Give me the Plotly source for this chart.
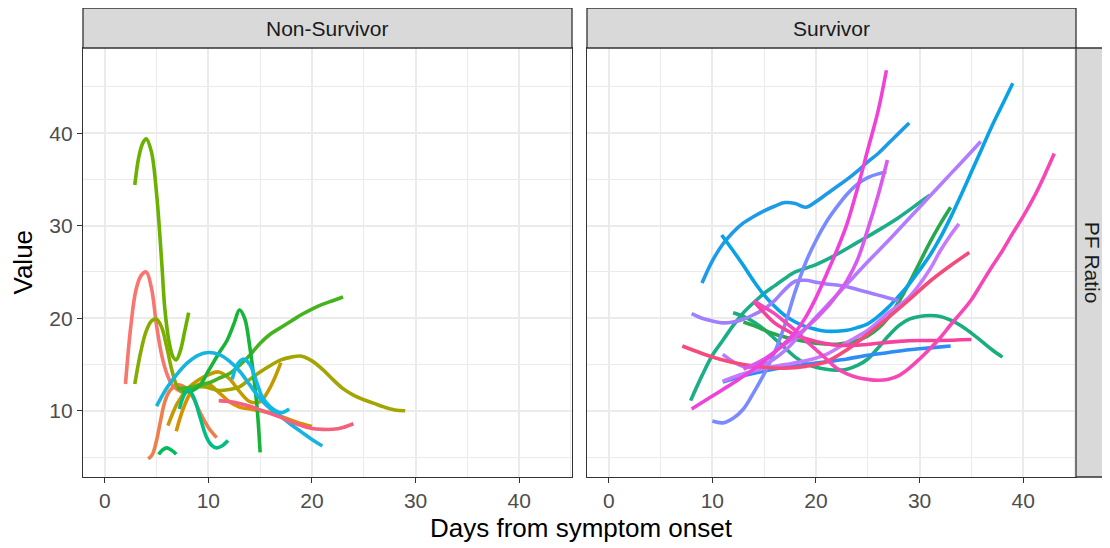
import plotly.graph_objects as go

# ---------------- Data: Non-Survivor panel ----------------
ns_red_x = [2, 2.5, 3, 3.5, 4, 4.5, 5, 5.5, 6, 6.5, 7, 7.5]
ns_red_y = [12.9, 19.0, 23.0, 24.6, 25.0, 23.3, 19.2, 16.0, 14.0, 12.8, 12.3, 12.0]

ns_coral_x = [4.2, 4.6, 5.0, 5.4, 5.8, 6.3, 7.0, 7.8, 8.5, 9.2, 10.0, 10.8]
ns_coral_y = [4.8, 5.3, 6.8, 9.0, 11.0, 12.2, 12.8, 12.5, 11.5, 9.8, 8.2, 7.1]

ns_gold2_x = [6.9, 7.5, 8.2, 9, 10, 11, 12, 13, 14, 15, 16, 17, 18, 19, 20]
ns_gold2_y = [7.8, 10.0, 11.8, 12.8, 12.9, 12.0, 11.0, 10.4, 10.2, 10.0, 9.8, 9.4, 9.0, 8.6, 8.3]

ns_gold1_x = [6.1, 7, 8, 9, 10, 11, 12, 13, 14, 15, 16, 17]
ns_gold1_y = [8.4, 10.8, 12.4, 13.3, 13.9, 14.2, 13.5, 12.1, 11.0, 11.0, 12.6, 15.2]

ns_olive_x = [7.5, 9.5, 11, 12, 13, 14, 15, 16, 17, 18, 19, 20, 21, 22, 23, 24, 25, 26, 27, 28, 29]
ns_olive_y = [12.3, 12.6, 12.2, 12.3, 12.6, 13.4, 14.2, 14.9, 15.5, 15.8, 15.9, 15.4, 14.5, 13.4, 12.4, 11.7, 11.2, 10.8, 10.4, 10.1, 10.0]

ns_lime_x = [2.9, 3.5, 4.0, 4.5, 5.0, 5.5, 6.0, 6.5, 7.0, 7.5, 8.0]
ns_lime_y = [12.9, 16.5, 18.6, 19.7, 19.9, 19.0, 16.8, 14.3, 12.6, 12.1, 12.3]

ns_tall_x = [2.9, 3.3, 3.7, 4.0, 4.5, 5.0, 5.5, 5.8, 6.2, 6.6, 6.9, 7.3, 7.7, 8.1]
ns_tall_y = [34.4, 37.5, 39.0, 39.4, 38.0, 33.5, 26.0, 21.0, 17.5, 15.8, 15.5, 16.5, 18.5, 20.6]

ns_greenA_x = [7.5, 8.5, 9.2, 10, 11, 11.8, 12.5, 13, 13.5, 14, 14.4, 14.7, 15]
ns_greenA_y = [12.0, 12.2, 12.8, 14.3, 16.2, 17.6, 19.5, 20.9, 20.0, 16.9, 13.5, 10.4, 5.5]

ns_greenB_x = [7, 8, 9, 10, 11, 12, 13, 14, 15, 16, 17, 18, 19, 20, 21, 22, 23]
ns_greenB_y = [12.4, 12.5, 12.7, 13.0, 13.5, 14.0, 14.9, 16.0, 17.3, 18.3, 19.0, 19.7, 20.4, 21.0, 21.5, 21.9, 22.3]

ns_tealsm_x = [5.2, 5.6, 6.0, 6.5, 6.9]
ns_tealsm_y = [5.3, 5.8, 6.0, 5.7, 5.3]

ns_teal_x = [7.2, 7.7, 8.1, 8.6, 9.2, 9.8, 10.3, 10.8, 11.3, 11.9]
ns_teal_y = [10.2, 11.8, 12.3, 11.4, 9.3, 7.2, 6.3, 6.0, 6.2, 6.8]

ns_cyan1_x = [5, 6, 7, 8, 9, 10, 11, 12, 13, 14, 15, 16, 17, 18, 19, 20, 21]
ns_cyan1_y = [10.5, 12.5, 14.0, 15.2, 16.0, 16.3, 16.1, 15.4, 14.3, 12.8, 11.3, 10.2, 9.4, 8.5, 7.7, 6.9, 6.2]

ns_cyan2_x = [12.3, 12.8, 13.4, 14.0, 14.6, 15.2, 16.0, 17.0, 17.8]
ns_cyan2_y = [13.4, 15.0, 15.6, 15.0, 13.3, 11.5, 10.4, 9.8, 10.2]

ns_pink_x = [11, 12, 13, 14, 15, 16, 17, 18, 19, 20, 21, 22, 23, 24]
ns_pink_y = [11.1, 11.0, 10.8, 10.5, 10.1, 9.7, 9.3, 8.8, 8.4, 8.1, 8.0, 8.0, 8.2, 8.6]

# ---------------- Data: Survivor panel ----------------
sv_blue1_x = [9, 10, 11, 12, 13, 14, 15, 16, 17, 18, 19, 20, 21, 22, 23, 24, 25, 26, 27, 28, 29]
sv_blue1_y = [23.8, 26.2, 28.0, 29.3, 30.3, 31.0, 31.6, 32.1, 32.5, 32.4, 32.0, 32.6, 33.4, 34.2, 35.0, 35.9, 36.9, 37.8, 38.9, 40.0, 41.1]

sv_blue2_x = [10.9, 12, 13, 14, 15, 16, 17, 18, 19, 20, 21, 22, 23, 24, 25, 26, 27, 28, 29, 30, 31, 32, 33, 34, 35, 36, 37, 38, 39]
sv_blue2_y = [29.0, 27.3, 25.7, 24.0, 22.5, 21.3, 20.3, 19.6, 19.1, 18.8, 18.6, 18.6, 18.7, 19.0, 19.4, 20.2, 21.2, 22.4, 23.7, 25.2, 26.8, 28.7, 30.9, 33.3, 35.8, 38.3, 40.8, 43.1, 45.4]

sv_blue3_x = [11, 13, 15, 17, 19, 21, 23, 25, 27, 29, 31, 33]
sv_blue3_y = [13.1, 13.8, 14.3, 14.7, 15.0, 15.3, 15.6, 16.0, 16.3, 16.6, 16.8, 17.0]

sv_peri_x = [10, 11, 12, 13, 14, 15, 16, 17, 18, 19, 20, 21, 22, 23, 24, 25, 26, 26.8]
sv_peri_y = [8.9, 8.7, 9.2, 10.2, 12.0, 14.0, 16.3, 19.3, 22.9, 26.0, 28.4, 30.4, 32.0, 33.4, 34.5, 35.2, 35.6, 35.8]

sv_purp1_x = [8, 9, 10, 11, 12, 13, 14, 15, 16, 17, 18, 19, 20, 21, 22, 23, 24, 25, 26, 27, 28]
sv_purp1_y = [20.5, 20.0, 19.7, 19.5, 19.6, 19.9, 20.4, 21.0, 21.9, 23.1, 24.0, 24.1, 23.9, 23.7, 23.6, 23.4, 23.1, 22.8, 22.5, 22.2, 21.9]

sv_purp2_x = [11, 13, 15, 17, 19, 21, 23, 25, 27, 29, 31, 33, 35, 35.9]
sv_purp2_y = [16.1, 14.8, 15.0, 16.5, 18.9, 21.3, 23.7, 26.1, 28.4, 30.8, 33.2, 35.6, 38.0, 39.1]

sv_purp3_x = [11, 13, 15, 17, 19, 21, 23, 25, 27, 29, 31, 32, 33, 33.8]
sv_purp3_y = [13.2, 14.0, 14.6, 15.0, 15.4, 16.1, 17.4, 18.7, 20.6, 22.3, 25.3, 27.3, 29.0, 30.2]

sv_mag1_x = [8, 10, 12, 14, 16, 18, 19, 20, 21, 22, 23, 24, 25, 26, 26.8]
sv_mag1_y = [10.2, 11.6, 13.0, 14.5, 16.3, 18.5, 20.1, 22.2, 24.7, 27.3, 30.2, 34.0, 38.2, 42.4, 46.8]

sv_mag2_x = [13, 15, 17, 19, 21, 22, 23, 24, 25, 26, 26.9]
sv_mag2_y = [14.5, 15.6, 17.2, 18.9, 21.1, 22.5, 24.1, 26.3, 29.6, 33.3, 37.1]

sv_pink1_x = [14, 15, 16, 17, 18, 19, 20, 21, 22, 23, 24, 25, 26, 27, 28, 29, 30, 31, 32, 33, 34, 35, 36, 37, 38, 39, 40, 41, 42, 43]
sv_pink1_y = [21.9, 21.2, 20.5, 19.6, 18.7, 17.6, 16.6, 15.6, 14.6, 14.0, 13.6, 13.4, 13.3, 13.4, 13.8, 14.6, 15.6, 16.7, 17.9, 19.3, 20.6, 22.0, 23.8, 25.6, 27.3, 29.2, 31.0, 33.0, 35.3, 37.8]

sv_redpink_x = [7.1, 9, 11, 13, 15, 17, 19, 21, 23, 25, 27, 29, 31, 33, 34.8]
sv_redpink_y = [17.0, 16.2, 15.5, 15.0, 14.7, 14.6, 14.8, 15.3, 16.6, 18.3, 20.1, 22.0, 24.0, 25.7, 27.1]

sv_pink2_x = [14, 15, 16, 17, 18, 20, 22, 24, 26, 28, 30, 32, 35]
sv_pink2_y = [21.8, 20.6, 19.5, 18.8, 18.2, 17.5, 17.1, 17.1, 17.3, 17.5, 17.6, 17.6, 17.7]

sv_teal1_x = [7.9, 9, 10, 11, 12, 13, 14, 15, 16, 17, 18, 19, 20, 22, 24, 26, 28, 30, 31]
sv_teal1_y = [11.1, 13.8, 16.0, 17.6, 19.2, 20.6, 21.7, 22.7, 23.5, 24.3, 25.0, 25.4, 25.8, 26.9, 28.2, 29.5, 30.9, 32.5, 33.3]

sv_teal2_x = [12, 13, 14, 15, 16, 17, 18, 19, 20, 21, 22, 23, 24, 25, 26, 27, 28, 29, 30, 31, 32, 33, 34, 35, 36, 37, 38]
sv_teal2_y = [20.6, 20.2, 19.6, 18.8, 17.8, 16.8, 15.8, 15.1, 14.7, 14.5, 14.4, 14.5, 14.9, 15.6, 16.8, 18.1, 19.2, 19.9, 20.2, 20.3, 20.2, 19.8, 19.2, 18.4, 17.5, 16.6, 15.8]

sv_green_x = [13, 14, 16, 18, 20, 22, 24, 25, 26, 27, 28, 29, 30, 31, 32, 33]
sv_green_y = [19.6, 19.2, 18.3, 17.7, 17.3, 17.2, 17.6, 18.1, 18.9, 20.1, 21.8, 23.8, 26.0, 28.2, 30.2, 32.0]

# ---------------- Labels ----------------
panel_labels = ["Non-Survivor", "Survivor"]
row_label = "PF Ratio"
x_title = "Days from symptom onset"
y_title = "Value"
x_ticks = [0, 10, 20, 30, 40]
y_ticks = [10, 20, 30, 40]

left_series = [
    (ns_red_x, ns_red_y, "#F8766D"),
    (ns_coral_x, ns_coral_y, "#EE7F4B"),
    (ns_gold2_x, ns_gold2_y, "#D89000"),
    (ns_gold1_x, ns_gold1_y, "#C49A00"),
    (ns_olive_x, ns_olive_y, "#A3A500"),
    (ns_lime_x, ns_lime_y, "#86AC00"),
    (ns_tall_x, ns_tall_y, "#6BB100"),
    (ns_greenB_x, ns_greenB_y, "#45B31E"),
    (ns_greenA_x, ns_greenA_y, "#18B43A"),
    (ns_tealsm_x, ns_tealsm_y, "#00BC59"),
    (ns_teal_x, ns_teal_y, "#00BD82"),
    (ns_cyan1_x, ns_cyan1_y, "#17B4DF"),
    (ns_cyan2_x, ns_cyan2_y, "#0EB8E8"),
    (ns_pink_x, ns_pink_y, "#F4607D"),
]

right_series = [
    (sv_teal1_x, sv_teal1_y, "#1BAE88"),
    (sv_teal2_x, sv_teal2_y, "#19AD7F"),
    (sv_green_x, sv_green_y, "#27A84E"),
    (sv_blue1_x, sv_blue1_y, "#1E9BE8"),
    (sv_blue2_x, sv_blue2_y, "#0AA2E6"),
    (sv_blue3_x, sv_blue3_y, "#2D8CF5"),
    (sv_peri_x, sv_peri_y, "#7A8BFF"),
    (sv_purp1_x, sv_purp1_y, "#A07FFF"),
    (sv_purp2_x, sv_purp2_y, "#B37BFF"),
    (sv_purp3_x, sv_purp3_y, "#C57AFF"),
    (sv_redpink_x, sv_redpink_y, "#F64A7A"),
    (sv_pink2_x, sv_pink2_y, "#F5429C"),
    (sv_pink1_x, sv_pink1_y, "#F547B5"),
    (sv_mag2_x, sv_mag2_y, "#DA5AEC"),
    (sv_mag1_x, sv_mag1_y, "#F042D8"),
]

LW = 3.6
fig = go.Figure()
for xs, ys, c in left_series:
    fig.add_trace(go.Scatter(x=xs, y=ys, mode="lines", line=dict(color=c, width=LW, shape="spline", smoothing=1.0),
                             xaxis="x", yaxis="y", showlegend=False, hoverinfo="skip"))
for xs, ys, c in right_series:
    fig.add_trace(go.Scatter(x=xs, y=ys, mode="lines", line=dict(color=c, width=LW, shape="spline", smoothing=1.0),
                             xaxis="x2", yaxis="y2", showlegend=False, hoverinfo="skip"))

# page body has an 8px margin: figure is drawn from (8, 8)
OFF = 8
W, H = 1110 - OFF, 548 - OFF
ML, MR, MT, MB = 83 - OFF, 34, 48 - OFF, 71
pw = W - ML - MR
ph = H - MT - MB
gap = 15
panel_w = (pw - gap) / 2
d1 = [0, panel_w / pw]
d2 = [(panel_w + gap) / pw, 1]

FONT = "Liberation Sans, Arial, Helvetica, sans-serif"
grid_col = "#EBEBEB"
axis_common = dict(
    showline=True, linecolor="#333333", linewidth=1.3, mirror=True,
    gridcolor=grid_col, gridwidth=1.8, zeroline=False,
    tickfont=dict(family=FONT, size=21, color="#4D4D4D"),
    ticklen=5, tickwidth=1.3, tickcolor="#333333",
)
xr = [-2.1, 45.1]
yr = [2.85, 49.2]
minor = dict(dtick=5, showgrid=True, gridcolor=grid_col, gridwidth=1.3, ticks="")

fig.update_layout(
    width=W, height=H,
    margin=dict(l=ML, r=MR, t=MT, b=MB),
    paper_bgcolor="white", plot_bgcolor="white",
    font=dict(family=FONT),
    xaxis=dict(domain=d1, range=xr, tickvals=x_ticks, anchor="y", minor=minor, ticks="outside", **axis_common),
    xaxis2=dict(domain=d2, range=xr, tickvals=x_ticks, anchor="y2", minor=minor, ticks="outside", **axis_common),
    yaxis=dict(domain=[0, 1], range=yr, tickvals=y_ticks, anchor="x", minor=minor, ticks="outside", **axis_common),
    yaxis2=dict(domain=[0, 1], range=yr, tickvals=y_ticks, anchor="x2", minor=minor, ticks="",
                showticklabels=False, **axis_common),
)

strip_h = 40 / ph
shapes = []
annotations = []
for dom, lab in zip([d1, d2], panel_labels):
    shapes.append(dict(type="rect", xref="paper", yref="paper", x0=dom[0], x1=dom[1], y0=1, y1=1 + strip_h,
                       fillcolor="#D9D9D9", line=dict(color="#333333", width=1.3), layer="above"))
    annotations.append(dict(xref="paper", yref="paper", x=(dom[0] + dom[1]) / 2, y=1 + strip_h / 2,
                            text=lab, showarrow=False, xanchor="center", yanchor="middle",
                            font=dict(family=FONT, size=21, color="#1A1A1A")))
sx1 = (W - 0.5 - ML) / pw
shapes.append(dict(type="rect", xref="paper", yref="paper", x0=1, x1=sx1, y0=0, y1=1,
                   fillcolor="#D9D9D9", line=dict(color="#333333", width=1.3), layer="above"))
annotations.append(dict(xref="paper", yref="paper", x=(1 + sx1) / 2, y=0.5, text=row_label, textangle=90,
                        showarrow=False, xanchor="center", yanchor="middle",
                        font=dict(family=FONT, size=21, color="#1A1A1A")))
annotations.append(dict(xref="paper", yref="paper", x=(581.5 - OFF - ML) / pw, y=-51 / ph,
                        text=x_title, showarrow=False, xanchor="center", yanchor="middle",
                        font=dict(family=FONT, size=26, color="black")))
annotations.append(dict(xref="paper", yref="paper", x=(22 - OFF - ML) / pw, y=0.5, text=y_title, textangle=-90,
                        showarrow=False, xanchor="center", yanchor="middle",
                        font=dict(family=FONT, size=26, color="black")))
fig.update_layout(shapes=shapes, annotations=annotations)

fig.write_html("out.html")
